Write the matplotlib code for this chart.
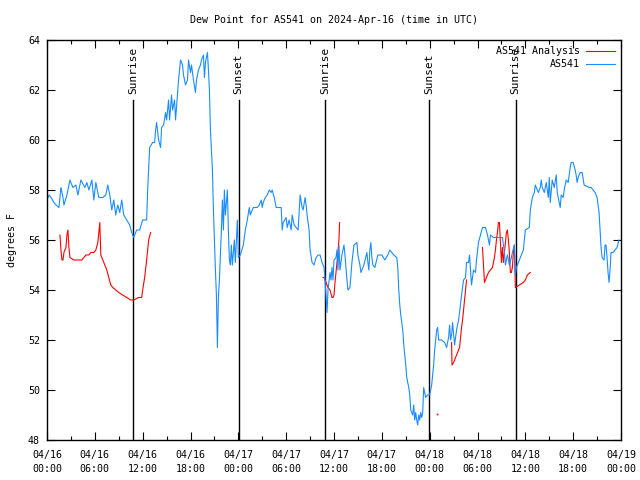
import numpy as np
import matplotlib
matplotlib.use('Agg')
import matplotlib.pyplot as plt
import matplotlib.dates as mdates
from matplotlib.lines import Line2D
from datetime import datetime, timedelta

START = datetime(2024, 4, 16)

# hours after 04/16 00:00 UTC -> dew point (F)
station_hours = [0, 0.25, 0.5, 0.875, 1.125, 1.5, 1.75, 2.0, 2.125, 2.5, 2.875, 3.25, 3.625, 3.875,
                 4.25, 4.75, 5.0, 5.25, 5.625, 5.875, 6.125, 6.5, 7.0, 7.375, 7.625, 7.875, 8.125,
                 8.375, 8.625, 8.875, 9.125, 9.375, 9.625, 10.0, 10.375, 10.625, 10.875, 11.25,
                 11.625, 12.0, 12.5, 12.625, 12.75, 12.875, 13.25, 13.5, 13.625, 13.75, 14.0, 14.25,
                 14.375, 14.625, 14.875, 15.0, 15.25, 15.375, 15.625, 15.75, 16.0, 16.125, 16.5,
                 16.75, 17.0, 17.125, 17.375, 17.625, 17.75, 18.0, 18.125, 18.375, 18.625, 18.75,
                 19.0, 19.25, 19.375, 19.625, 19.75, 19.875, 20.125, 20.25, 20.375, 20.5, 20.75,
                 20.875, 21.0, 21.125, 21.25, 21.375, 21.5, 21.625, 21.875, 22.0, 22.125, 22.25,
                 22.375, 22.625, 22.75, 22.875, 23.0, 23.125, 23.25, 23.5, 23.625, 23.875, 24.0,
                 24.25, 24.625, 24.875, 25.125, 25.375, 25.5, 25.75, 25.875, 26.375, 26.625, 26.875,
                 27.0, 27.125, 27.375, 27.625, 27.875, 28.125, 28.25, 28.5, 28.75, 29.375, 29.5,
                 29.625, 30.0, 30.125, 30.375, 30.625, 30.75, 31.0, 31.25, 31.5, 31.75, 32.0,
                 32.125, 32.375, 32.5, 32.625, 32.875, 33.0, 33.25, 33.5, 33.75, 34.0, 34.25, 34.5,
                 34.75, 34.875, 35.125, 35.25, 35.5, 35.625, 35.75, 35.875, 36.0, 36.25, 36.375,
                 36.5, 36.625, 36.75, 37.0, 37.25, 37.375, 37.625, 37.75, 38.0, 38.125, 38.25, 38.5,
                 38.875, 39.0, 39.25, 39.375, 39.75, 40.125, 40.25, 40.375, 40.5, 40.625, 40.75,
                 40.875, 41.125, 41.5, 42.0, 42.375, 42.75, 43.0, 43.25, 43.5, 43.875, 44.0, 44.125,
                 44.25, 44.375, 44.625, 44.75, 44.875, 45.0, 45.125, 45.375, 45.5, 45.625, 45.875,
                 46.0, 46.125, 46.25, 46.375, 46.5, 46.625, 46.75, 46.875, 47.0, 47.125, 47.25,
                 47.5, 47.75, 48.0, 48.25, 48.5, 48.625, 48.875, 49.0, 49.125, 49.5, 49.875, 50.125,
                 50.375, 50.5, 50.625, 50.75, 50.875, 51.125, 51.375, 51.625, 51.75, 52.0, 52.25,
                 52.5, 52.625, 52.875, 53.0, 53.25, 53.5, 53.75, 53.875, 54.125, 54.375, 54.625,
                 55.0, 55.25, 55.5, 55.625, 56.0, 56.75, 57.125, 57.375, 57.5, 57.75, 58.0, 58.25,
                 58.375, 58.625, 58.75, 58.875, 59.125, 59.5, 59.75, 60.0, 60.5, 60.625, 60.875,
                 61.125, 61.25, 61.375, 61.625, 61.875, 62.0, 62.125, 62.375, 62.625, 62.875, 63.0,
                 63.125, 63.375, 63.625, 63.875, 64.0, 64.375, 64.5, 64.75, 64.875, 65.125, 65.375,
                 65.625, 65.75, 66.0, 66.25, 66.375, 66.5, 66.625, 66.875, 67.125, 67.375, 68.0,
                 68.25, 68.5, 68.75, 69.0, 69.25, 69.375, 69.5, 69.625, 69.875, 70.0, 70.125, 70.25,
                 70.375, 70.5, 70.625, 70.75, 71.0, 71.5, 71.75]
station_dew = [57.6, 57.8, 57.7, 57.5, 57.4, 57.3, 58.1, 57.7, 57.4, 57.8, 58.4, 58.1, 58.2, 57.8,
               58.4, 58.1, 58.3, 58.0, 58.4, 57.6, 58.3, 57.7, 57.7, 57.8, 58.2, 57.8, 57.2,
               57.6, 57.0, 57.4, 57.1, 57.6, 57.0, 56.8, 56.6, 56.3, 56.1, 56.4,
               56.4, 56.8, 56.8, 58.0, 58.9, 59.7, 59.9, 59.9, 60.4, 60.7, 60.0, 59.7,
               60.5, 60.6, 61.1, 60.8, 61.6, 60.8, 61.8, 61.2, 61.6, 60.8, 62.4,
               63.2, 63.0, 62.6, 62.2, 62.4, 63.2, 62.7, 63.0, 62.4, 61.9, 62.4,
               62.8, 63.0, 63.2, 63.4, 62.5, 63.1, 63.5, 62.8, 62.0, 60.4, 58.8,
               57.2, 56.0, 54.8, 53.8, 51.7, 53.7, 54.4, 56.4, 57.6, 56.4, 58.0,
               57.0, 58.0, 56.4, 55.2, 55.0, 55.8, 55.0, 56.0, 55.1, 56.8, 55.3,
               55.4, 55.8, 56.4, 56.8, 57.3, 57.0, 57.2, 57.3, 57.3, 57.4, 57.6,
               57.3, 57.5, 57.7, 57.8, 58.0, 57.9, 58.0, 57.7, 57.3, 57.3, 56.4,
               56.7, 56.9, 56.5, 56.8, 56.4, 57.0, 56.6, 56.5, 56.4, 57.8, 57.3,
               57.2, 57.7, 57.4, 57.0, 56.4, 55.6, 55.1, 55.0, 55.3, 55.4, 55.4, 55.1,
               54.9, 54.4, 53.1, 54.0, 54.7, 54.4, 54.9, 54.4, 55.2, 55.3, 55.6,
               54.8, 55.8, 54.8, 55.4, 55.8, 55.4, 54.4, 54.0, 54.1, 54.6, 55.1, 55.8,
               55.9, 55.4, 55.0, 54.7, 55.0, 55.5, 55.1, 54.8, 55.6, 55.9, 55.3,
               55.0, 54.9, 55.4, 55.4, 55.2, 55.4, 55.6, 55.5, 55.4, 55.3, 54.9, 54.0,
               53.4, 53.0, 52.4, 51.8, 51.4, 51.0, 50.5, 50.1, 49.8, 49.2, 49.0,
               49.4, 48.8, 49.1, 48.8, 48.6, 49.0, 48.8, 49.1, 48.9, 49.1, 50.1,
               49.7, 49.8, 49.8, 50.2, 51.0, 51.6, 52.4, 52.5, 52.0, 52.0, 51.9, 51.7,
               52.1, 52.6, 52.0, 52.2, 52.7, 51.8, 52.4, 52.8, 53.1, 53.8, 54.4,
               54.5, 55.1, 55.1, 55.4, 54.2, 54.8, 54.7, 55.2, 55.9, 56.2, 56.5,
               56.5, 56.2, 55.8, 56.2, 56.1, 56.1, 56.1, 55.5, 55.0, 55.4, 55.0, 55.3,
               55.5, 55.8, 54.6, 54.9, 55.1, 55.4, 55.6, 56.4, 56.5, 57.2, 57.7,
               57.9, 58.2, 58.1, 57.9, 58.1, 58.4, 58.1, 57.9, 58.3, 57.7, 58.5,
               57.5, 58.4, 58.1, 58.6, 57.9, 57.3, 57.8, 57.7, 58.0, 58.4, 58.3,
               58.9, 59.1, 59.1, 58.8, 58.6, 58.3, 58.5, 58.7, 58.7, 58.2, 58.1,
               58.1, 58.0, 57.9, 57.7, 57.1, 56.4, 55.7, 55.3, 55.2, 55.8, 55.8, 55.3,
               54.7, 54.3, 54.8, 55.5, 55.5, 55.7, 56.0]

# analysis series, NaN = gap
analysis_hours = [1.625, 1.75, 1.875, 2.0, 2.125, 2.375, 2.5, 2.625, 2.75, 2.875, 3.375, 4.0, 4.375,
                  4.875, 5.25, 5.5, 5.875, 6.125, 6.375, 6.5, 6.625, 6.75, 7.0, 7.25, 7.5, 7.75,
                  8.0, 8.25, 8.625, 9.0, 9.5, 10.0, 10.5, 10.875, 11.5, 11.875, 12.0, 12.25, 12.5,
                  12.75, 13.0,
                  13.1,
                  34.625, 34.75, 35.0, 35.25, 35.5, 35.75, 35.875, 36.0, 36.125, 36.25, 36.375,
                  36.5, 36.625, 36.7,
                  36.8,
                  48.875,
                  48.9,
                  50.75, 50.8, 51.0, 51.25, 51.5, 51.75, 51.875, 52.0, 52.125, 52.25, 52.375, 52.5,
                  52.625,
                  52.7,
                  54.625, 54.875, 55.125, 55.375, 55.625, 55.875, 56.125, 56.25, 56.375, 56.5,
                  56.625, 56.75, 56.875, 57.0, 57.125, 57.25, 57.375, 57.5, 57.625, 57.75, 57.875,
                  58.0, 58.125, 58.25, 58.375, 58.5, 58.625, 58.75, 59.25, 59.75, 60.0, 60.25,
                  60.625]
analysis_dew = [56.2, 55.6, 55.2, 55.2, 55.5, 55.7, 56.2, 56.4, 55.7, 55.3, 55.2, 55.2, 55.2,
                55.4, 55.4, 55.5, 55.5, 55.6, 55.9, 56.3, 56.7, 55.4, 55.2, 55.0, 54.8, 54.5,
                54.2, 54.1, 54.0, 53.9, 53.8, 53.7, 53.6, 53.6, 53.7, 53.7, 54.0, 54.5, 55.2,
                56.0, 56.3,
                np.nan,
                54.5, 54.5, 54.3, 54.1, 54.0, 53.7, 53.7, 53.8, 54.3, 54.7, 55.1,
                55.6, 56.0, 56.7,
                np.nan,
                49.05,
                np.nan,
                51.9, 51.0, 51.1, 51.3, 51.5, 51.7, 52.1, 52.5, 52.8, 53.2, 53.6, 54.0,
                54.4,
                np.nan,
                55.7, 54.3, 54.5, 54.7, 54.8, 54.9, 55.3, 55.6, 56.0, 56.3,
                56.7, 56.7, 55.9, 55.1, 55.7, 55.1, 55.5, 55.9, 56.3, 56.4, 56.0,
                55.5, 54.7, 54.7, 54.9, 55.5, 55.8, 54.1, 54.2, 54.3, 54.4, 54.6,
                54.7]

sun_hours = [10.85, 24.03, 34.85, 47.95, 58.77]
sun_names = ['Sunrise', 'Sunset', 'Sunrise', 'Sunset', 'Sunrise']

FONT = 'DejaVu Sans Mono'
FS = 7.2
plt.rcParams['font.family'] = FONT
plt.rcParams['font.size'] = FS

t0 = mdates.date2num(START)
def to_x(hours):
    return t0 + np.asarray(hours, dtype=float) / 24.0

fig = plt.figure(figsize=(6.4, 4.8), dpi=100)
ax = fig.add_axes([47 / 640, 40 / 480, 574 / 640, 400 / 480])

# sunrise / sunset markers
for h, name in zip(sun_hours, sun_names):
    ax.axvline(to_x([h])[0], ymin=0, ymax=0.85, color='black', lw=1.0)
    ax.text(to_x([h])[0], 0.866, name, rotation=90, ha='center', va='bottom',
            transform=ax.get_xaxis_transform(), fontsize=FS + 0.8)

ax_x = to_x(analysis_hours)
ay = np.array(analysis_dew, dtype=float)
ax.plot(ax_x, ay, color='#ff0000', lw=0.8)
# lone points would vanish between gaps, so draw them as dots
for i in range(len(ay)):
    if np.isnan(ay[i]):
        continue
    prev_nan = i == 0 or np.isnan(ay[i - 1])
    next_nan = i == len(ay) - 1 or np.isnan(ay[i + 1])
    if prev_nan and next_nan:
        ax.plot(ax_x[i], ay[i], marker='s', ms=1.2, color='#ff0000', mew=0)

ax.plot(to_x(station_hours), station_dew, color='#1a8cff', lw=0.8)

ax.set_xlim(t0, t0 + 3)
ax.set_ylim(48, 64)
ax.set_yticks(np.arange(48, 65, 2))
ax.xaxis.set_major_locator(mdates.HourLocator(byhour=[0, 6, 12, 18]))
ax.xaxis.set_minor_locator(mdates.HourLocator(byhour=[3, 9, 15, 21]))
ax.xaxis.set_major_formatter(mdates.DateFormatter('%m/%d\n%H:%M'))
for lab in ax.get_xticklabels():
    lab.set_linespacing(1.5)

ax.tick_params(which='both', direction='in', top=True, right=True, labelsize=FS, width=0.8)
ax.tick_params(which='major', length=6)
ax.tick_params(which='minor', length=3)
ax.tick_params(axis='x', pad=7)
ax.tick_params(axis='y', pad=5)
for s in ax.spines.values():
    s.set_linewidth(1.0)

ax.set_title('Dew Point for AS541 on 2024-Apr-16 (time in UTC)', fontsize=FS, pad=12)
ax.set_ylabel('degrees F', fontsize=FS, labelpad=8)

handles = [Line2D([], [], color='#ff0000', lw=0.8), Line2D([], [], color='#1a8cff', lw=0.8)]
ax.legend(handles, ['AS541 Analysis', 'AS541'], loc='upper right', frameon=False,
          markerfirst=False, fontsize=FS, handlelength=2.9, handletextpad=0.6,
          labelspacing=0.3, borderaxespad=0.25, borderpad=0.4)

fig.savefig('out.png', dpi=100)
